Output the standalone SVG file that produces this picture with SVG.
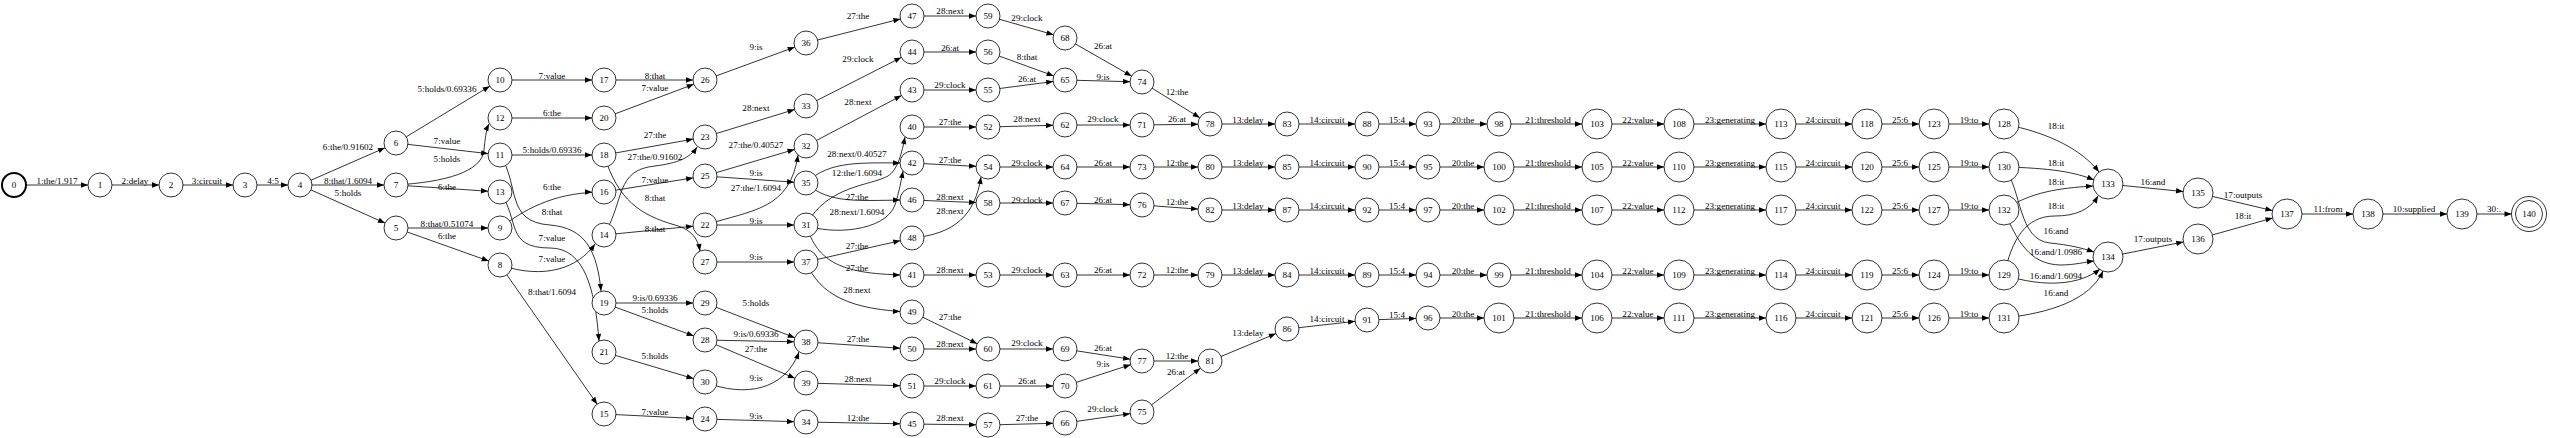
<svg xmlns="http://www.w3.org/2000/svg" width="2550" height="438" viewBox="0 0 2550 438">
<style>
.e{fill:none;stroke:#000;stroke-width:.8}
.s12{marker-end:url(#a12)}.s15{marker-end:url(#a15)}.s17{marker-end:url(#a17)}.s0{marker-end:url(#a0)}
.l,.node text{font-family:"Liberation Serif","Times New Roman",serif;font-size:9.1px;text-anchor:middle;fill:#000}
.node circle{fill:#fff;stroke:#000;stroke-width:.8}
</style>
<defs>
<marker id="a0" markerUnits="userSpaceOnUse" markerWidth="8" markerHeight="6" refX="7" refY="2.7" orient="auto" overflow="visible"><path d="M0,0 L7,2.7 L0,5.4 z"/></marker>
<marker id="a12" markerUnits="userSpaceOnUse" markerWidth="8" markerHeight="6" refX="19" refY="2.7" orient="auto" overflow="visible"><path d="M0,0 L7,2.7 L0,5.4 z"/></marker>
<marker id="a15" markerUnits="userSpaceOnUse" markerWidth="8" markerHeight="6" refX="22" refY="2.7" orient="auto" overflow="visible"><path d="M0,0 L7,2.7 L0,5.4 z"/></marker>
<marker id="a17" markerUnits="userSpaceOnUse" markerWidth="8" markerHeight="6" refX="24.5" refY="2.7" orient="auto" overflow="visible"><path d="M0,0 L7,2.7 L0,5.4 z"/></marker>
</defs>
<rect width="2550" height="438" fill="#fff"/>
<g id="connectors">
<path class="e s12" d="M14 185L100 185"/><text class="l" x="57" y="184">1:the/1.917</text>
<path class="e s12" d="M100 185L171 185"/><text class="l" x="135" y="184">2:delay</text>
<path class="e s12" d="M171 185L245 185"/><text class="l" x="207" y="184">3:circuit</text>
<path class="e s12" d="M245 185L300 185"/><text class="l" x="273" y="184">4:5</text>
<path class="e s12" d="M300 185L396 143"/><text class="l" x="348" y="150">6:the/0.91602</text>
<path class="e s12" d="M300 185L396 185"/><text class="l" x="348" y="184">8:that/1.6094</text>
<path class="e s12" d="M300 185L396 228"/><text class="l" x="348" y="196">5:holds</text>
<path class="e s12" d="M396 143L500 80"/><text class="l" x="447" y="92">5:holds/0.69336</text>
<path class="e s12" d="M396 143L500 155"/><text class="l" x="447" y="144">7:value</text>
<path class="e s0" d="M396 185C445 182 482 172 484 150C485 140 486 130 489 124"/><text class="l" x="447" y="162">5:holds</text>
<path class="e s12" d="M396 185L500 192"/><text class="l" x="447" y="190">6:the</text>
<path class="e s12" d="M396 228L500 228"/><text class="l" x="447" y="227">8:that/0.51074</text>
<path class="e s12" d="M396 228L500 265"/><text class="l" x="447" y="239">6:the</text>
<path class="e s12" d="M500 80L604 80"/><text class="l" x="552" y="79">7:value</text>
<path class="e s12" d="M500 118L604 118"/><text class="l" x="552" y="116">6:the</text>
<path class="e s12" d="M500 155L604 155"/><text class="l" x="552" y="153">5:holds/0.69336</text>
<path class="e s12" d="M500 228C530 205 560 192 604 192"/><text class="l" x="552" y="190">6:the</text>
<path class="e s0" d="M500 155C520 185 505 222 550 225C585 228 597 250 601 291"/><text class="l" x="552" y="215">8:that</text>
<path class="e s0" d="M500 192C520 220 505 248 550 248C585 248 595 290 599 341"/><text class="l" x="552" y="241">7:value</text>
<path class="e s0" d="M500 265C545 280 578 268 595 244"/><text class="l" x="552" y="262">7:value</text>
<path class="e s12" d="M500 265L604 414"/><text class="l" x="552" y="295">8:that/1.6094</text>
<path class="e s12" d="M604 80L705 80"/><text class="l" x="655" y="79">8:that</text>
<path class="e s12" d="M604 118L705 80"/><text class="l" x="655" y="91">7:value</text>
<path class="e s12" d="M705 80L806 43"/><text class="l" x="756" y="50">9:is</text>
<path class="e s12" d="M604 155L705 137"/><text class="l" x="655" y="138">27:the</text>
<path class="e s0" d="M604 235C625 200 615 170 655 166C678 163 690 158 697 147"/><text class="l" x="655" y="160">27:the/0.91602</text>
<path class="e s12" d="M604 192L705 176"/><text class="l" x="655" y="183">7:value</text>
<path class="e s0" d="M604 155C618 200 640 215 675 225C693 230 698 240 700 251"/><text class="l" x="655" y="201">8:that</text>
<path class="e s12" d="M604 235L705 225"/><text class="l" x="655" y="232">8:that</text>
<path class="e s12" d="M705 137L806 106"/><text class="l" x="756" y="111">28:next</text>
<path class="e s12" d="M705 176L806 146"/><text class="l" x="756" y="148">27:the/0.40527</text>
<path class="e s12" d="M705 176L806 183"/><text class="l" x="756" y="176">9:is</text>
<path class="e s0" d="M705 225C752 210 790 210 798 155"/><text class="l" x="756" y="191">27:the/1.6094</text>
<path class="e s12" d="M705 225L806 225"/><text class="l" x="756" y="224">9:is</text>
<path class="e s12" d="M705 262L806 262"/><text class="l" x="756" y="260">9:is</text>
<path class="e s12" d="M604 303L705 303"/><text class="l" x="655" y="301">9:is/0.69336</text>
<path class="e s12" d="M604 303L705 340"/><text class="l" x="655" y="313">5:holds</text>
<path class="e s12" d="M705 303L806 342"/><text class="l" x="756" y="306">5:holds</text>
<path class="e s12" d="M705 340L806 342"/><text class="l" x="756" y="337">9:is/0.69336</text>
<path class="e s12" d="M705 340L806 383"/><text class="l" x="756" y="352">27:the</text>
<path class="e s12" d="M604 352L705 382"/><text class="l" x="655" y="359">5:holds</text>
<path class="e s0" d="M705 382C745 398 785 390 799 352"/><text class="l" x="756" y="381">9:is</text>
<path class="e s12" d="M604 414L705 419"/><text class="l" x="655" y="415">7:value</text>
<path class="e s12" d="M705 419L806 422"/><text class="l" x="756" y="419">9:is</text>
<path class="e s12" d="M806 43L912 16"/><text class="l" x="858" y="19">27:the</text>
<path class="e s12" d="M806 106L912 52"/><text class="l" x="858" y="62">29:clock</text>
<path class="e s12" d="M806 146L912 90"/><text class="l" x="858" y="105">28:next</text>
<path class="e s12" d="M806 183C830 160 860 163 912 163"/><text class="l" x="857" y="157">28:next/0.40527</text>
<path class="e s0" d="M806 225C828 185 870 186 888 176C898 170 902 152 905 137"/><text class="l" x="857" y="176">12:the/1.6094</text>
<path class="e s12" d="M806 183C830 205 860 200 912 200"/><text class="l" x="857" y="200">27:the</text>
<path class="e s0" d="M806 225C830 235 885 232 895 205C899 192 901 182 903 171"/><text class="l" x="857" y="215">28:next/1.6094</text>
<path class="e s12" d="M806 262L912 238"/><text class="l" x="857" y="249">27:the</text>
<path class="e s12" d="M806 225C818 262 840 275 912 275"/><text class="l" x="857" y="271">27:the</text>
<path class="e s12" d="M806 262C820 295 850 310 912 312"/><text class="l" x="857" y="293">28:next</text>
<path class="e s12" d="M806 342L912 349"/><text class="l" x="858" y="342">27:the</text>
<path class="e s12" d="M806 383L912 386"/><text class="l" x="858" y="382">28:next</text>
<path class="e s12" d="M806 422L912 424"/><text class="l" x="858" y="421">12:the</text>
<path class="e s12" d="M912 16L988 16"/><text class="l" x="950" y="14">28:next</text>
<path class="e s12" d="M912 52L988 52"/><text class="l" x="950" y="51">26:at</text>
<path class="e s12" d="M912 90L988 90"/><text class="l" x="950" y="88">29:clock</text>
<path class="e s12" d="M912 127L988 127"/><text class="l" x="950" y="125">27:the</text>
<path class="e s12" d="M912 163L988 167"/><text class="l" x="950" y="163">27:the</text>
<path class="e s12" d="M912 200L988 203"/><text class="l" x="950" y="200">28:next</text>
<path class="e s0" d="M912 238C955 234 975 215 981 177"/><text class="l" x="950" y="214">28:next</text>
<path class="e s12" d="M912 275L988 275"/><text class="l" x="950" y="273">28:next</text>
<path class="e s12" d="M912 312L988 349"/><text class="l" x="950" y="320">27:the</text>
<path class="e s12" d="M912 349L988 349"/><text class="l" x="950" y="347">28:next</text>
<path class="e s12" d="M912 386L988 386"/><text class="l" x="950" y="384">29:clock</text>
<path class="e s12" d="M912 424L988 425"/><text class="l" x="950" y="421">28:next</text>
<path class="e s12" d="M988 16L1065 38"/><text class="l" x="1027" y="21">29:clock</text>
<path class="e s12" d="M988 52L1065 80"/><text class="l" x="1027" y="60">8:that</text>
<path class="e s12" d="M988 90L1065 80"/><text class="l" x="1027" y="82">26:at</text>
<path class="e s12" d="M1065 38L1142 82"/><text class="l" x="1103" y="49">26:at</text>
<path class="e s12" d="M1065 80L1142 82"/><text class="l" x="1103" y="80">9:is</text>
<path class="e s12" d="M1142 82L1210 124"/><text class="l" x="1177" y="95">12:the</text>
<path class="e s12" d="M988 127L1065 125"/><text class="l" x="1027" y="122">28:next</text>
<path class="e s12" d="M1065 125L1142 125"/><text class="l" x="1103" y="122">29:clock</text>
<path class="e s12" d="M1142 125L1210 124"/><text class="l" x="1177" y="122">26:at</text>
<path class="e s12" d="M988 167L1065 167"/><text class="l" x="1027" y="166">29:clock</text>
<path class="e s12" d="M1065 167L1142 167"/><text class="l" x="1103" y="166">26:at</text>
<path class="e s12" d="M1142 167L1210 167"/><text class="l" x="1177" y="166">12:the</text>
<path class="e s12" d="M988 203L1065 203"/><text class="l" x="1027" y="203">29:clock</text>
<path class="e s12" d="M1065 203L1142 205"/><text class="l" x="1103" y="203">26:at</text>
<path class="e s12" d="M1142 205L1210 210"/><text class="l" x="1177" y="205">12:the</text>
<path class="e s12" d="M988 275L1065 275"/><text class="l" x="1027" y="273">29:clock</text>
<path class="e s12" d="M1065 275L1142 275"/><text class="l" x="1103" y="273">26:at</text>
<path class="e s12" d="M1142 275L1210 275"/><text class="l" x="1177" y="273">12:the</text>
<path class="e s12" d="M988 349L1065 349"/><text class="l" x="1027" y="346">29:clock</text>
<path class="e s12" d="M1065 349L1142 361"/><text class="l" x="1103" y="351">26:at</text>
<path class="e s12" d="M1065 386L1142 361"/><text class="l" x="1103" y="367">9:is</text>
<path class="e s12" d="M1142 361L1210 361"/><text class="l" x="1177" y="359">12:the</text>
<path class="e s12" d="M988 386L1065 386"/><text class="l" x="1027" y="384">26:at</text>
<path class="e s12" d="M988 425L1065 423"/><text class="l" x="1027" y="421">27:the</text>
<path class="e s12" d="M1065 423L1142 412"/><text class="l" x="1103" y="412">29:clock</text>
<path class="e s12" d="M1142 412L1210 361"/><text class="l" x="1176" y="375">26:at</text>
<path class="e s12" d="M1210 124L1287 124"/><text class="l" x="1248" y="122.5">13:delay</text>
<path class="e s12" d="M1287 124L1367 124"/><text class="l" x="1327" y="122.5">14:circuit</text>
<path class="e s12" d="M1367 124L1428 124"/><text class="l" x="1397" y="122.5">15:4</text>
<path class="e s12" d="M1428 124L1499 124"/><text class="l" x="1463" y="122.5">20:the</text>
<path class="e s15" d="M1499 124L1597 124"/><text class="l" x="1548" y="122.5">21:threshold</text>
<path class="e s15" d="M1597 124L1679 124"/><text class="l" x="1638" y="122.5">22:value</text>
<path class="e s15" d="M1679 124L1781 124"/><text class="l" x="1730" y="122.5">23:generating</text>
<path class="e s15" d="M1781 124L1867 124"/><text class="l" x="1823" y="122.5">24:circuit</text>
<path class="e s15" d="M1867 124L1934 124"/><text class="l" x="1900" y="122.5">25:6</text>
<path class="e s15" d="M1934 124L2004 124"/><text class="l" x="1969" y="122.5">19:to</text>
<path class="e s12" d="M1210 167L1287 167"/><text class="l" x="1248" y="165.5">13:delay</text>
<path class="e s12" d="M1287 167L1367 167"/><text class="l" x="1327" y="165.5">14:circuit</text>
<path class="e s12" d="M1367 167L1428 167"/><text class="l" x="1397" y="165.5">15:4</text>
<path class="e s15" d="M1428 167L1499 167"/><text class="l" x="1463" y="165.5">20:the</text>
<path class="e s15" d="M1499 167L1597 167"/><text class="l" x="1548" y="165.5">21:threshold</text>
<path class="e s15" d="M1597 167L1679 167"/><text class="l" x="1638" y="165.5">22:value</text>
<path class="e s15" d="M1679 167L1781 167"/><text class="l" x="1730" y="165.5">23:generating</text>
<path class="e s15" d="M1781 167L1867 167"/><text class="l" x="1823" y="165.5">24:circuit</text>
<path class="e s15" d="M1867 167L1934 167"/><text class="l" x="1900" y="165.5">25:6</text>
<path class="e s15" d="M1934 167L2004 167"/><text class="l" x="1969" y="165.5">19:to</text>
<path class="e s12" d="M1210 210L1287 210"/><text class="l" x="1248" y="208.5">13:delay</text>
<path class="e s12" d="M1287 210L1367 210"/><text class="l" x="1327" y="208.5">14:circuit</text>
<path class="e s12" d="M1367 210L1428 210"/><text class="l" x="1397" y="208.5">15:4</text>
<path class="e s15" d="M1428 210L1499 210"/><text class="l" x="1463" y="208.5">20:the</text>
<path class="e s15" d="M1499 210L1597 210"/><text class="l" x="1548" y="208.5">21:threshold</text>
<path class="e s15" d="M1597 210L1679 210"/><text class="l" x="1638" y="208.5">22:value</text>
<path class="e s15" d="M1679 210L1781 210"/><text class="l" x="1730" y="208.5">23:generating</text>
<path class="e s15" d="M1781 210L1867 210"/><text class="l" x="1823" y="208.5">24:circuit</text>
<path class="e s15" d="M1867 210L1934 210"/><text class="l" x="1900" y="208.5">25:6</text>
<path class="e s15" d="M1934 210L2004 210"/><text class="l" x="1969" y="208.5">19:to</text>
<path class="e s12" d="M1210 275L1287 275"/><text class="l" x="1248" y="273.5">13:delay</text>
<path class="e s12" d="M1287 275L1367 275"/><text class="l" x="1327" y="273.5">14:circuit</text>
<path class="e s12" d="M1367 275L1428 275"/><text class="l" x="1397" y="273.5">15:4</text>
<path class="e s12" d="M1428 275L1499 275"/><text class="l" x="1463" y="273.5">20:the</text>
<path class="e s15" d="M1499 275L1597 275"/><text class="l" x="1548" y="273.5">21:threshold</text>
<path class="e s15" d="M1597 275L1679 275"/><text class="l" x="1638" y="273.5">22:value</text>
<path class="e s15" d="M1679 275L1781 275"/><text class="l" x="1730" y="273.5">23:generating</text>
<path class="e s15" d="M1781 275L1867 275"/><text class="l" x="1823" y="273.5">24:circuit</text>
<path class="e s15" d="M1867 275L1934 275"/><text class="l" x="1900" y="273.5">25:6</text>
<path class="e s15" d="M1934 275L2004 275"/><text class="l" x="1969" y="273.5">19:to</text>
<path class="e s12" d="M1210 361L1287 329"/><text class="l" x="1248" y="336">13:delay</text>
<path class="e s12" d="M1287 329L1367 320"/><text class="l" x="1327" y="322">14:circuit</text>
<path class="e s12" d="M1367 320L1428 318"/><text class="l" x="1397" y="318">15:4</text>
<path class="e s15" d="M1428 318L1499 318"/><text class="l" x="1463" y="316.5">20:the</text>
<path class="e s15" d="M1499 318L1597 318"/><text class="l" x="1548" y="316.5">21:threshold</text>
<path class="e s15" d="M1597 318L1679 318"/><text class="l" x="1638" y="316.5">22:value</text>
<path class="e s15" d="M1679 318L1781 318"/><text class="l" x="1730" y="316.5">23:generating</text>
<path class="e s15" d="M1781 318L1867 318"/><text class="l" x="1823" y="316.5">24:circuit</text>
<path class="e s15" d="M1867 318L1934 318"/><text class="l" x="1900" y="316.5">25:6</text>
<path class="e s15" d="M1934 318L2004 318"/><text class="l" x="1969" y="316.5">19:to</text>
<path class="e s0" d="M2004 124C2050 133 2082 150 2099 172"/><text class="l" x="2056" y="129">18:it</text>
<path class="e s0" d="M2004 167C2050 168 2075 172 2094 180"/><text class="l" x="2056" y="166">18:it</text>
<path class="e s0" d="M2004 210C2030 192 2060 188 2093 186"/><text class="l" x="2056" y="185">18:it</text>
<path class="e s0" d="M2004 275C2012 240 2025 216 2055 216C2075 216 2090 210 2098 196"/><text class="l" x="2056" y="209">18:it</text>
<path class="e s0" d="M2004 167C2022 190 2018 240 2050 243C2070 245 2082 248 2094 252"/><text class="l" x="2056" y="234">16:and</text>
<path class="e s0" d="M2004 210C2020 250 2035 264 2060 265C2075 265 2085 262 2094 261"/><text class="l" x="2056" y="255">16:and/1.0986</text>
<path class="e s0" d="M2004 275C2045 288 2080 285 2100 269"/><text class="l" x="2056" y="279">16:and/1.6094</text>
<path class="e s0" d="M2004 318C2050 313 2090 300 2103 271"/><text class="l" x="2056" y="296">16:and</text>
<path class="e s15" d="M2108 184L2198 193"/><text class="l" x="2153" y="185">16:and</text>
<path class="e s15" d="M2108 257L2198 239"/><text class="l" x="2153" y="242">17:outputs</text>
<path class="e s15" d="M2198 193L2287 214"/><text class="l" x="2243" y="198">17:outputs</text>
<path class="e s15" d="M2198 239L2287 214"/><text class="l" x="2243" y="219">18:it</text>
<path class="e s15" d="M2287 214L2368 214"/><text class="l" x="2328" y="212">11:from</text>
<path class="e s15" d="M2368 214L2462 214"/><text class="l" x="2414" y="212">10:supplied</text>
<path class="e s17" d="M2462 214L2529 214"/><text class="l" x="2494" y="212">30:.</text>
</g>
<g id="nodes">
<g id="node0" class="node"><circle cx="14" cy="185" r="12" style="stroke-width:2"/><text x="14" y="188.2">0</text></g>
<g id="node1" class="node"><circle cx="100" cy="185" r="12"/><text x="100" y="188.2">1</text></g>
<g id="node2" class="node"><circle cx="171" cy="185" r="12"/><text x="171" y="188.2">2</text></g>
<g id="node3" class="node"><circle cx="245" cy="185" r="12"/><text x="245" y="188.2">3</text></g>
<g id="node4" class="node"><circle cx="300" cy="185" r="12"/><text x="300" y="188.2">4</text></g>
<g id="node6" class="node"><circle cx="396" cy="143" r="12"/><text x="396" y="146.2">6</text></g>
<g id="node7" class="node"><circle cx="396" cy="185" r="12"/><text x="396" y="188.2">7</text></g>
<g id="node5" class="node"><circle cx="396" cy="228" r="12"/><text x="396" y="231.2">5</text></g>
<g id="node10" class="node"><circle cx="500" cy="80" r="12"/><text x="500" y="83.2">10</text></g>
<g id="node12" class="node"><circle cx="500" cy="118" r="12"/><text x="500" y="121.2">12</text></g>
<g id="node11" class="node"><circle cx="500" cy="155" r="12"/><text x="500" y="158.2">11</text></g>
<g id="node13" class="node"><circle cx="500" cy="192" r="12"/><text x="500" y="195.2">13</text></g>
<g id="node9" class="node"><circle cx="500" cy="228" r="12"/><text x="500" y="231.2">9</text></g>
<g id="node8" class="node"><circle cx="500" cy="265" r="12"/><text x="500" y="268.2">8</text></g>
<g id="node17" class="node"><circle cx="604" cy="80" r="12"/><text x="604" y="83.2">17</text></g>
<g id="node20" class="node"><circle cx="604" cy="118" r="12"/><text x="604" y="121.2">20</text></g>
<g id="node18" class="node"><circle cx="604" cy="155" r="12"/><text x="604" y="158.2">18</text></g>
<g id="node16" class="node"><circle cx="604" cy="192" r="12"/><text x="604" y="195.2">16</text></g>
<g id="node14" class="node"><circle cx="604" cy="235" r="12"/><text x="604" y="238.2">14</text></g>
<g id="node19" class="node"><circle cx="604" cy="303" r="12"/><text x="604" y="306.2">19</text></g>
<g id="node21" class="node"><circle cx="604" cy="352" r="12"/><text x="604" y="355.2">21</text></g>
<g id="node15" class="node"><circle cx="604" cy="414" r="12"/><text x="604" y="417.2">15</text></g>
<g id="node26" class="node"><circle cx="705" cy="80" r="12"/><text x="705" y="83.2">26</text></g>
<g id="node23" class="node"><circle cx="705" cy="137" r="12"/><text x="705" y="140.2">23</text></g>
<g id="node25" class="node"><circle cx="705" cy="176" r="12"/><text x="705" y="179.2">25</text></g>
<g id="node22" class="node"><circle cx="705" cy="225" r="12"/><text x="705" y="228.2">22</text></g>
<g id="node27" class="node"><circle cx="705" cy="262" r="12"/><text x="705" y="265.2">27</text></g>
<g id="node29" class="node"><circle cx="705" cy="303" r="12"/><text x="705" y="306.2">29</text></g>
<g id="node28" class="node"><circle cx="705" cy="340" r="12"/><text x="705" y="343.2">28</text></g>
<g id="node30" class="node"><circle cx="705" cy="382" r="12"/><text x="705" y="385.2">30</text></g>
<g id="node24" class="node"><circle cx="705" cy="419" r="12"/><text x="705" y="422.2">24</text></g>
<g id="node36" class="node"><circle cx="806" cy="43" r="12"/><text x="806" y="46.2">36</text></g>
<g id="node33" class="node"><circle cx="806" cy="106" r="12"/><text x="806" y="109.2">33</text></g>
<g id="node32" class="node"><circle cx="806" cy="146" r="12"/><text x="806" y="149.2">32</text></g>
<g id="node35" class="node"><circle cx="806" cy="183" r="12"/><text x="806" y="186.2">35</text></g>
<g id="node31" class="node"><circle cx="806" cy="225" r="12"/><text x="806" y="228.2">31</text></g>
<g id="node37" class="node"><circle cx="806" cy="262" r="12"/><text x="806" y="265.2">37</text></g>
<g id="node38" class="node"><circle cx="806" cy="342" r="12"/><text x="806" y="345.2">38</text></g>
<g id="node39" class="node"><circle cx="806" cy="383" r="12"/><text x="806" y="386.2">39</text></g>
<g id="node34" class="node"><circle cx="806" cy="422" r="12"/><text x="806" y="425.2">34</text></g>
<g id="node47" class="node"><circle cx="912" cy="16" r="12"/><text x="912" y="19.2">47</text></g>
<g id="node44" class="node"><circle cx="912" cy="52" r="12"/><text x="912" y="55.2">44</text></g>
<g id="node43" class="node"><circle cx="912" cy="90" r="12"/><text x="912" y="93.2">43</text></g>
<g id="node40" class="node"><circle cx="912" cy="127" r="12"/><text x="912" y="130.2">40</text></g>
<g id="node42" class="node"><circle cx="912" cy="163" r="12"/><text x="912" y="166.2">42</text></g>
<g id="node46" class="node"><circle cx="912" cy="200" r="12"/><text x="912" y="203.2">46</text></g>
<g id="node48" class="node"><circle cx="912" cy="238" r="12"/><text x="912" y="241.2">48</text></g>
<g id="node41" class="node"><circle cx="912" cy="275" r="12"/><text x="912" y="278.2">41</text></g>
<g id="node49" class="node"><circle cx="912" cy="312" r="12"/><text x="912" y="315.2">49</text></g>
<g id="node50" class="node"><circle cx="912" cy="349" r="12"/><text x="912" y="352.2">50</text></g>
<g id="node51" class="node"><circle cx="912" cy="386" r="12"/><text x="912" y="389.2">51</text></g>
<g id="node45" class="node"><circle cx="912" cy="424" r="12"/><text x="912" y="427.2">45</text></g>
<g id="node59" class="node"><circle cx="988" cy="16" r="12"/><text x="988" y="19.2">59</text></g>
<g id="node56" class="node"><circle cx="988" cy="52" r="12"/><text x="988" y="55.2">56</text></g>
<g id="node55" class="node"><circle cx="988" cy="90" r="12"/><text x="988" y="93.2">55</text></g>
<g id="node52" class="node"><circle cx="988" cy="127" r="12"/><text x="988" y="130.2">52</text></g>
<g id="node54" class="node"><circle cx="988" cy="167" r="12"/><text x="988" y="170.2">54</text></g>
<g id="node58" class="node"><circle cx="988" cy="203" r="12"/><text x="988" y="206.2">58</text></g>
<g id="node53" class="node"><circle cx="988" cy="275" r="12"/><text x="988" y="278.2">53</text></g>
<g id="node60" class="node"><circle cx="988" cy="349" r="12"/><text x="988" y="352.2">60</text></g>
<g id="node61" class="node"><circle cx="988" cy="386" r="12"/><text x="988" y="389.2">61</text></g>
<g id="node57" class="node"><circle cx="988" cy="425" r="12"/><text x="988" y="428.2">57</text></g>
<g id="node68" class="node"><circle cx="1065" cy="38" r="12"/><text x="1065" y="41.2">68</text></g>
<g id="node65" class="node"><circle cx="1065" cy="80" r="12"/><text x="1065" y="83.2">65</text></g>
<g id="node62" class="node"><circle cx="1065" cy="125" r="12"/><text x="1065" y="128.2">62</text></g>
<g id="node64" class="node"><circle cx="1065" cy="167" r="12"/><text x="1065" y="170.2">64</text></g>
<g id="node67" class="node"><circle cx="1065" cy="203" r="12"/><text x="1065" y="206.2">67</text></g>
<g id="node63" class="node"><circle cx="1065" cy="275" r="12"/><text x="1065" y="278.2">63</text></g>
<g id="node69" class="node"><circle cx="1065" cy="349" r="12"/><text x="1065" y="352.2">69</text></g>
<g id="node70" class="node"><circle cx="1065" cy="386" r="12"/><text x="1065" y="389.2">70</text></g>
<g id="node66" class="node"><circle cx="1065" cy="423" r="12"/><text x="1065" y="426.2">66</text></g>
<g id="node74" class="node"><circle cx="1142" cy="82" r="12"/><text x="1142" y="85.2">74</text></g>
<g id="node71" class="node"><circle cx="1142" cy="125" r="12"/><text x="1142" y="128.2">71</text></g>
<g id="node73" class="node"><circle cx="1142" cy="167" r="12"/><text x="1142" y="170.2">73</text></g>
<g id="node76" class="node"><circle cx="1142" cy="205" r="12"/><text x="1142" y="208.2">76</text></g>
<g id="node72" class="node"><circle cx="1142" cy="275" r="12"/><text x="1142" y="278.2">72</text></g>
<g id="node77" class="node"><circle cx="1142" cy="361" r="12"/><text x="1142" y="364.2">77</text></g>
<g id="node75" class="node"><circle cx="1142" cy="412" r="12"/><text x="1142" y="415.2">75</text></g>
<g id="node78" class="node"><circle cx="1210" cy="124" r="12"/><text x="1210" y="127.2">78</text></g>
<g id="node80" class="node"><circle cx="1210" cy="167" r="12"/><text x="1210" y="170.2">80</text></g>
<g id="node82" class="node"><circle cx="1210" cy="210" r="12"/><text x="1210" y="213.2">82</text></g>
<g id="node79" class="node"><circle cx="1210" cy="275" r="12"/><text x="1210" y="278.2">79</text></g>
<g id="node81" class="node"><circle cx="1210" cy="361" r="12"/><text x="1210" y="364.2">81</text></g>
<g id="node83" class="node"><circle cx="1287" cy="124" r="12"/><text x="1287" y="127.2">83</text></g>
<g id="node85" class="node"><circle cx="1287" cy="167" r="12"/><text x="1287" y="170.2">85</text></g>
<g id="node87" class="node"><circle cx="1287" cy="210" r="12"/><text x="1287" y="213.2">87</text></g>
<g id="node84" class="node"><circle cx="1287" cy="275" r="12"/><text x="1287" y="278.2">84</text></g>
<g id="node86" class="node"><circle cx="1287" cy="329" r="12"/><text x="1287" y="332.2">86</text></g>
<g id="node88" class="node"><circle cx="1367" cy="124" r="12"/><text x="1367" y="127.2">88</text></g>
<g id="node90" class="node"><circle cx="1367" cy="167" r="12"/><text x="1367" y="170.2">90</text></g>
<g id="node92" class="node"><circle cx="1367" cy="210" r="12"/><text x="1367" y="213.2">92</text></g>
<g id="node89" class="node"><circle cx="1367" cy="275" r="12"/><text x="1367" y="278.2">89</text></g>
<g id="node91" class="node"><circle cx="1367" cy="320" r="12"/><text x="1367" y="323.2">91</text></g>
<g id="node93" class="node"><circle cx="1428" cy="124" r="12"/><text x="1428" y="127.2">93</text></g>
<g id="node95" class="node"><circle cx="1428" cy="167" r="12"/><text x="1428" y="170.2">95</text></g>
<g id="node97" class="node"><circle cx="1428" cy="210" r="12"/><text x="1428" y="213.2">97</text></g>
<g id="node94" class="node"><circle cx="1428" cy="275" r="12"/><text x="1428" y="278.2">94</text></g>
<g id="node96" class="node"><circle cx="1428" cy="318" r="12"/><text x="1428" y="321.2">96</text></g>
<g id="node98" class="node"><circle cx="1499" cy="124" r="12"/><text x="1499" y="127.2">98</text></g>
<g id="node100" class="node"><circle cx="1499" cy="167" r="15"/><text x="1499" y="170.2">100</text></g>
<g id="node102" class="node"><circle cx="1499" cy="210" r="15"/><text x="1499" y="213.2">102</text></g>
<g id="node99" class="node"><circle cx="1499" cy="275" r="12"/><text x="1499" y="278.2">99</text></g>
<g id="node101" class="node"><circle cx="1499" cy="318" r="15"/><text x="1499" y="321.2">101</text></g>
<g id="node103" class="node"><circle cx="1597" cy="124" r="15"/><text x="1597" y="127.2">103</text></g>
<g id="node105" class="node"><circle cx="1597" cy="167" r="15"/><text x="1597" y="170.2">105</text></g>
<g id="node107" class="node"><circle cx="1597" cy="210" r="15"/><text x="1597" y="213.2">107</text></g>
<g id="node104" class="node"><circle cx="1597" cy="275" r="15"/><text x="1597" y="278.2">104</text></g>
<g id="node106" class="node"><circle cx="1597" cy="318" r="15"/><text x="1597" y="321.2">106</text></g>
<g id="node108" class="node"><circle cx="1679" cy="124" r="15"/><text x="1679" y="127.2">108</text></g>
<g id="node110" class="node"><circle cx="1679" cy="167" r="15"/><text x="1679" y="170.2">110</text></g>
<g id="node112" class="node"><circle cx="1679" cy="210" r="15"/><text x="1679" y="213.2">112</text></g>
<g id="node109" class="node"><circle cx="1679" cy="275" r="15"/><text x="1679" y="278.2">109</text></g>
<g id="node111" class="node"><circle cx="1679" cy="318" r="15"/><text x="1679" y="321.2">111</text></g>
<g id="node113" class="node"><circle cx="1781" cy="124" r="15"/><text x="1781" y="127.2">113</text></g>
<g id="node115" class="node"><circle cx="1781" cy="167" r="15"/><text x="1781" y="170.2">115</text></g>
<g id="node117" class="node"><circle cx="1781" cy="210" r="15"/><text x="1781" y="213.2">117</text></g>
<g id="node114" class="node"><circle cx="1781" cy="275" r="15"/><text x="1781" y="278.2">114</text></g>
<g id="node116" class="node"><circle cx="1781" cy="318" r="15"/><text x="1781" y="321.2">116</text></g>
<g id="node118" class="node"><circle cx="1867" cy="124" r="15"/><text x="1867" y="127.2">118</text></g>
<g id="node120" class="node"><circle cx="1867" cy="167" r="15"/><text x="1867" y="170.2">120</text></g>
<g id="node122" class="node"><circle cx="1867" cy="210" r="15"/><text x="1867" y="213.2">122</text></g>
<g id="node119" class="node"><circle cx="1867" cy="275" r="15"/><text x="1867" y="278.2">119</text></g>
<g id="node121" class="node"><circle cx="1867" cy="318" r="15"/><text x="1867" y="321.2">121</text></g>
<g id="node123" class="node"><circle cx="1934" cy="124" r="15"/><text x="1934" y="127.2">123</text></g>
<g id="node125" class="node"><circle cx="1934" cy="167" r="15"/><text x="1934" y="170.2">125</text></g>
<g id="node127" class="node"><circle cx="1934" cy="210" r="15"/><text x="1934" y="213.2">127</text></g>
<g id="node124" class="node"><circle cx="1934" cy="275" r="15"/><text x="1934" y="278.2">124</text></g>
<g id="node126" class="node"><circle cx="1934" cy="318" r="15"/><text x="1934" y="321.2">126</text></g>
<g id="node128" class="node"><circle cx="2004" cy="124" r="15"/><text x="2004" y="127.2">128</text></g>
<g id="node130" class="node"><circle cx="2004" cy="167" r="15"/><text x="2004" y="170.2">130</text></g>
<g id="node132" class="node"><circle cx="2004" cy="210" r="15"/><text x="2004" y="213.2">132</text></g>
<g id="node129" class="node"><circle cx="2004" cy="275" r="15"/><text x="2004" y="278.2">129</text></g>
<g id="node131" class="node"><circle cx="2004" cy="318" r="15"/><text x="2004" y="321.2">131</text></g>
<g id="node133" class="node"><circle cx="2108" cy="184" r="15"/><text x="2108" y="187.2">133</text></g>
<g id="node134" class="node"><circle cx="2108" cy="257" r="15"/><text x="2108" y="260.2">134</text></g>
<g id="node135" class="node"><circle cx="2198" cy="193" r="15"/><text x="2198" y="196.2">135</text></g>
<g id="node136" class="node"><circle cx="2198" cy="239" r="15"/><text x="2198" y="242.2">136</text></g>
<g id="node137" class="node"><circle cx="2287" cy="214" r="15"/><text x="2287" y="217.2">137</text></g>
<g id="node138" class="node"><circle cx="2368" cy="214" r="15"/><text x="2368" y="217.2">138</text></g>
<g id="node139" class="node"><circle cx="2462" cy="214" r="15"/><text x="2462" y="217.2">139</text></g>
<g id="node140" class="node"><circle cx="2529" cy="214" r="17.5"/><circle cx="2529" cy="214" r="13.5"/><text x="2529" y="217.2">140</text></g>
</g>
</svg>
